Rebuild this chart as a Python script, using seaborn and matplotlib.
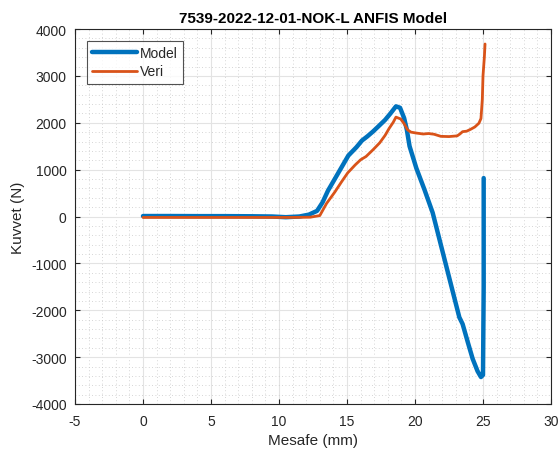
import matplotlib
matplotlib.use("Agg")
import matplotlib.pyplot as plt
import numpy as np
import pandas as pd
import seaborn as sns

# DATA
model_x = [0, 2, 4, 6, 8, 9.5, 10.5, 11.5, 12.2, 12.8, 13.2, 13.6, 14.1, 14.6,
           15.1, 15.7, 16.1, 16.5, 16.9, 17.3, 17.8, 18.2, 18.6, 18.9, 19.2,
           19.4, 19.6, 20.1, 20.7, 21.3, 21.8, 22.3, 22.8, 23.26, 23.5, 23.9,
           24.24, 24.6, 24.85, 25.0, 25.05, 25.05]
model_y = [10, 10, 8, 8, 5, 0, -15, 0, 40, 120, 300, 550, 800, 1050,
           1300, 1480, 1620, 1710, 1810, 1920, 2060, 2200, 2350, 2320, 2100,
           1850, 1500, 1030, 570, 80, -490, -1060, -1630, -2151, -2293, -2700,
           -3036, -3300, -3425, -3380, -1500, 820]

veri_x = [0, 3, 6, 9, 11, 12.3, 13.0, 13.5, 14.1, 14.6, 15.05, 15.6, 16.0,
          16.4, 16.9, 17.4, 17.8, 18.1, 18.4, 18.6, 18.95, 19.2, 19.45, 19.7,
          20.1, 20.6, 21.0, 21.4, 21.9, 22.5, 23.1, 23.3, 23.5, 23.8, 24.1,
          24.4, 24.7, 24.85, 24.95, 25.0, 25.1, 25.15]
veri_y = [-20, -20, -20, -20, -20, -15, 20, 280, 520, 740, 930, 1100, 1210,
          1280, 1420, 1570, 1730, 1880, 2010, 2120, 2080, 1980, 1850, 1800,
          1780, 1760, 1770, 1755, 1710, 1705, 1720, 1760, 1810, 1820, 1862,
          1910, 1990, 2090, 2500, 3000, 3400, 3680]

title = "7539-2022-12-01-NOK-L ANFIS Model"

# PLOT
sns.set_style("ticks")
plt.rcParams['font.family'] = ['Liberation Sans', 'DejaVu Sans']
plt.rcParams['axes.unicode_minus'] = False

fig = plt.figure(figsize=(5.59, 4.56), dpi=100)
ax = fig.add_axes([75 / 559, 1 - 405 / 456, 476 / 559, 375 / 456])

sns.lineplot(x=model_x, y=model_y, sort=False, estimator=None, ax=ax,
             color="#0072BD", linewidth=3.2, label="Model")
sns.lineplot(x=veri_x, y=veri_y, sort=False, estimator=None, ax=ax,
             color="#D95319", linewidth=2.0, label="Veri")

ax.set_xlim(-5, 30)
ax.set_ylim(-4000, 4000)
ax.set_xticks(np.arange(-5, 31, 5))
ax.set_yticks(np.arange(-4000, 4001, 1000))
ax.set_xticks(np.arange(-5, 30.5, 1), minor=True)
ax.set_yticks(np.arange(-4000, 4001, 200), minor=True)

ax.grid(which="major", color="#e3e3e3", linewidth=0.8, linestyle="-")
ax.grid(which="minor", color="#c8c8c8", linewidth=0.6, linestyle=(0, (1, 3)))
ax.set_axisbelow(True)

ax.tick_params(which="major", direction="in", top=True, right=True,
               length=3.6, labelsize=10, colors="#262626", width=0.8)
ax.tick_params(axis="y", which="major", pad=6)
ax.tick_params(axis="x", which="major", pad=7)
ax.tick_params(which="minor", length=0, top=True, right=True)
for s in ax.spines.values():
    s.set_color("#262626")
    s.set_linewidth(0.8)

ax.set_xlabel("Mesafe (mm)", fontsize=11, color="#262626", labelpad=4)
ax.set_ylabel("Kuvvet (N)", fontsize=11, color="#262626", labelpad=4)
ax.set_title(title, fontsize=11, fontweight="bold", color="black", pad=5)

leg = ax.legend(loc="upper left", fontsize=10, handlelength=3.2,
                frameon=True, fancybox=False, borderpad=0.4,
                labelspacing=0.3, handletextpad=0.2, borderaxespad=0,
                bbox_to_anchor=(11.7 / 476, 1 - 11.7 / 375))
leg.get_frame().set_edgecolor("#262626")
leg.get_frame().set_linewidth(0.8)

fig.savefig("out.png", dpi=100)
